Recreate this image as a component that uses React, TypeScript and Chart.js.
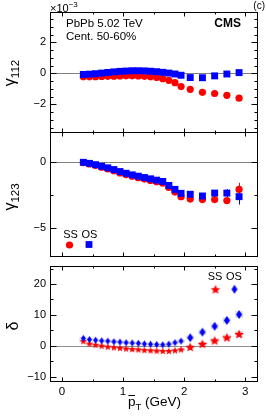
import React, { useEffect, useRef } from "react";
import { Chart, registerables } from "chart.js";

Chart.register(...registerables);

// ---------------- data ----------------
const pT = [0.35, 0.45, 0.55, 0.65, 0.75, 0.85, 0.95, 1.05, 1.15, 1.25, 1.35, 1.45, 1.55, 1.65, 1.75, 1.85, 1.95, 2.1, 2.3, 2.5, 2.7, 2.9];

// gamma_112 (x 10^-3)
const gamma112SS = [-0.22, -0.22, -0.21, -0.2, -0.19, -0.18, -0.17, -0.16, -0.16, -0.17, -0.19, -0.22, -0.27, -0.34, -0.45, -0.6, -0.85, -1.03, -1.22, -1.3, -1.42, -1.6];
const gamma112OS = [-0.07, -0.05, -0.02, 0.02, 0.06, 0.1, 0.13, 0.15, 0.17, 0.17, 0.16, 0.14, 0.11, 0.07, 0.02, -0.04, -0.12, -0.27, -0.28, -0.16, -0.04, 0.05];

// gamma_123
const gamma123SS = [-0.03, -0.12, -0.24, -0.37, -0.5, -0.64, -0.8, -0.93, -1.05, -1.16, -1.27, -1.37, -1.48, -1.58, -1.9, -2.25, -2.6, -2.78, -2.82, -2.82, -2.9, -2.05];
const gamma123OS = [0, -0.08, -0.18, -0.3, -0.42, -0.55, -0.7, -0.83, -0.95, -1.05, -1.15, -1.25, -1.35, -1.45, -1.75, -2.05, -2.35, -2.42, -2.55, -2.33, -2.33, -2.6];
const gamma123ErrSS = [0, 0, 0, 0, 0, 0, 0, 0, 0, 0, 0, 0, 0, 0, 0, 0, 0.05, 0.08, 0.1, 0.15, 0.2, 0.5];
const gamma123ErrOS = [0, 0, 0, 0, 0, 0, 0, 0, 0, 0, 0, 0, 0, 0, 0, 0, 0.05, 0.1, 0.12, 0.2, 0.3, 0.6];

// delta
const deltaSS = [1.5, 0.7, 0.3, 0.0, -0.3, -0.5, -0.7, -0.9, -1.1, -1.2, -1.4, -1.5, -1.6, -1.7, -1.7, -1.5, -1.2, -0.4, 0.6, 1.7, 2.7, 3.8];
const deltaOS = [2.4, 2.0, 1.8, 1.6, 1.5, 1.3, 1.2, 1.0, 0.9, 0.8, 0.6, 0.5, 0.4, 0.3, 0.5, 1.0, 1.5, 2.6, 4.4, 6.3, 8.2, 10.1];
const deltaSysSS = [0.4, 0.4, 0.4, 0.4, 0.4, 0.4, 0.4, 0.4, 0.4, 0.4, 0.4, 0.4, 0.4, 0.4, 0.4, 0.4, 0.5, 0.6, 0.7, 0.8, 0.9, 1.0];
const deltaSysOS = [0.4, 0.4, 0.4, 0.4, 0.4, 0.4, 0.4, 0.4, 0.4, 0.4, 0.4, 0.4, 0.4, 0.4, 0.4, 0.4, 0.5, 0.7, 0.8, 0.9, 1.0, 1.1];

// ticks
const xMajor = [0, 1, 2, 3];
const xMinor = [0.5, 1.5, 2.5];
const y112Major = [-2, 0, 2];
const y112Minor = [-3.5, -3, -2.5, -1.5, -1, -0.5, 0.5, 1, 1.5, 2.5, 3, 3.5];
const y123Major = [-5, 0];
const y123Minor = [-2.5];
const yDeltaMajor = [-10, 0, 10, 20];
const yDeltaMinor = [-5, 5, 15, 25];

// ---------------- layout constants ----------------
const W = 266;
const H = 418;
const LEFT = 51;
const RIGHT = 258;
const X_MIN = -0.18;
const X_MAX = 3.21;
const FF = "'Liberation Sans', Arial, Helvetica, sans-serif";
const RED = "#ff0000";
const BLUE = "#0000ff";

function makeStar(outer: number, color: string) {
  const s = Math.ceil(outer * 2) + 2;
  const c = document.createElement("canvas");
  c.width = s;
  c.height = s;
  const ctx = c.getContext("2d")!;
  ctx.fillStyle = color;
  ctx.beginPath();
  const cx = s / 2;
  const cy = s / 2 + outer * 0.1;
  const inner = outer * 0.45;
  for (let i = 0; i < 10; i++) {
    const r = i % 2 ? inner : outer;
    const a = -Math.PI / 2 + (i * Math.PI) / 5;
    ctx.lineTo(cx + r * Math.cos(a), cy + r * Math.sin(a));
  }
  ctx.closePath();
  ctx.fill();
  return c;
}

function makeDiamond(w: number, h: number, color: string) {
  const c = document.createElement("canvas");
  c.width = w + 2;
  c.height = h + 2;
  const ctx = c.getContext("2d")!;
  ctx.fillStyle = color;
  ctx.beginPath();
  ctx.moveTo(c.width / 2, 1);
  ctx.lineTo(c.width - 1, c.height / 2);
  ctx.lineTo(c.width / 2, c.height - 1);
  ctx.lineTo(1, c.height / 2);
  ctx.closePath();
  ctx.fill();
  return c;
}

type Part = { t: string; font: string; dy?: number; dx?: number; overline?: boolean };

function drawRich(ctx: CanvasRenderingContext2D, parts: Part[], x: number, y: number, align: string, rotate = false) {
  ctx.save();
  ctx.translate(x, y);
  if (rotate) ctx.rotate(-Math.PI / 2);
  ctx.textBaseline = "alphabetic";
  ctx.textAlign = "left";
  let total = 0;
  const widths = parts.map((p) => {
    ctx.font = p.font;
    const w = ctx.measureText(p.t).width;
    total += w + (p.dx || 0);
    return w;
  });
  let cx = align === "center" ? -total / 2 : align === "right" ? -total : 0;
  ctx.fillStyle = "#000";
  parts.forEach((p, i) => {
    ctx.font = p.font;
    cx += p.dx || 0;
    ctx.fillText(p.t, cx, p.dy || 0);
    if (p.overline) {
      ctx.strokeStyle = "#000";
      ctx.lineWidth = 1;
      ctx.beginPath();
      ctx.moveTo(cx + 0.5, (p.dy || 0) - 10.5);
      ctx.lineTo(cx + widths[i] - 0.5, (p.dy || 0) - 10.5);
      ctx.stroke();
    }
    cx += widths[i];
  });
  ctx.restore();
}

const rootPlugin = {
  id: "rootFrame",
  beforeDatasetsDraw(chart: any, _a: any, o: any) {
    const { ctx, chartArea: a, scales } = chart;
    const xs = scales.x;
    const ys = scales.y;
    ctx.save();
    (o.sys || []).forEach((s: any) => {
      ctx.fillStyle = s.color;
      pT.forEach((x, i) => {
        const px = xs.getPixelForValue(x);
        const y1 = ys.getPixelForValue(s.y[i] + s.e[i]);
        const y2 = ys.getPixelForValue(s.y[i] - s.e[i]);
        ctx.fillRect(px - s.hw, y1, 2 * s.hw, y2 - y1);
      });
    });
    const y0 = Math.round(ys.getPixelForValue(0)) + 0.5;
    ctx.strokeStyle = o.zeroColor || "#888";
    ctx.lineWidth = 1;
    ctx.beginPath();
    ctx.moveTo(a.left, y0);
    ctx.lineTo(a.right, y0);
    ctx.stroke();
    (o.errors || []).forEach((s: any) => {
      ctx.strokeStyle = s.color;
      pT.forEach((x, i) => {
        if (!s.e[i]) return;
        const px = Math.round(xs.getPixelForValue(x)) + 0.5;
        ctx.beginPath();
        ctx.moveTo(px, ys.getPixelForValue(s.y[i] + s.e[i]));
        ctx.lineTo(px, ys.getPixelForValue(s.y[i] - s.e[i]));
        ctx.stroke();
      });
    });
    ctx.restore();
  },
  afterDatasetsDraw(chart: any, _a: any, o: any) {
    const { ctx, chartArea: a, scales } = chart;
    const xs = scales.x;
    const ys = scales.y;
    ctx.save();
    ctx.strokeStyle = "#000";
    ctx.lineWidth = 1;
    const L = Math.round(a.left) - 0.5;
    const R = Math.round(a.right) - 0.5;
    const T = Math.round(a.top) - 0.5;
    const B = Math.round(a.bottom) - 0.5;
    ctx.strokeRect(L, T, R - L, B - T);
    ctx.beginPath();
    const xt = (vals: number[], len: number) => {
      vals.forEach((v) => {
        const px = Math.round(xs.getPixelForValue(v)) + 0.5;
        ctx.moveTo(px, B);
        ctx.lineTo(px, B - len);
        ctx.moveTo(px, T);
        ctx.lineTo(px, T + len);
      });
    };
    const yt = (vals: number[], len: number) => {
      vals.forEach((v) => {
        const py = Math.round(ys.getPixelForValue(v)) + 0.5;
        if (py < T || py > B) return;
        ctx.moveTo(L, py);
        ctx.lineTo(L + len, py);
        ctx.moveTo(R, py);
        ctx.lineTo(R - len, py);
      });
    };
    xt(xMajor, 4);
    xt(xMinor, 2);
    yt(o.yMajor, 6);
    yt(o.yMinor, 3);
    ctx.stroke();

    if (o.xLabels) {
      ctx.fillStyle = "#000";
      ctx.font = `11.5px ${FF}`;
      ctx.textAlign = "center";
      ctx.textBaseline = "alphabetic";
      for (const v of xMajor) {
        ctx.fillText(String(v), xs.getPixelForValue(v), a.bottom + 12.5);
      }
    }

    (o.texts || []).forEach((t: any) => drawRich(ctx, t.parts, t.x, t.y, t.align, t.rotate));

    (o.markers || []).forEach((m: any) => {
      ctx.fillStyle = m.color;
      if (m.kind === "circle") {
        ctx.beginPath();
        ctx.arc(m.x, m.y, m.r, 0, Math.PI * 2);
        ctx.fill();
      } else if (m.kind === "rect") {
        ctx.fillRect(m.x - m.r, m.y - m.r, 2 * m.r, 2 * m.r);
      } else if (m.img) {
        ctx.drawImage(m.img, m.x - m.img.width / 2, m.y - m.img.height / 2);
      }
    });
    ctx.restore();
  },
};

function panel(p: any) {
  const xh = p.showX ? 20 : 0;
  return {
    type: "scatter",
    data: {
      datasets: p.datasets,
    },
    options: {
      animation: false,
      responsive: false,
      maintainAspectRatio: false,
      events: [],
      layout: { padding: { left: 0, right: W - RIGHT, top: p.top, bottom: H - p.bottom - xh } },
      plugins: {
        legend: { display: false },
        tooltip: { enabled: false },
        rootFrame: { ...p.plugin, xLabels: p.showX },
      },
      scales: {
        x: {
          type: "linear",
          min: X_MIN,
          max: X_MAX,
          grid: { display: false, drawTicks: false },
          border: { display: false },
          ticks: { display: false },
          afterFit: (s: any) => {
            s.height = xh;
          },
        },
        y: {
          type: "linear",
          min: p.yMin,
          max: p.yMax,
          grid: { display: false, drawTicks: false },
          border: { display: false },
          ticks: {
            padding: 5,
            autoSkip: false,
            color: "#000",
            font: { family: FF, size: 11 },
            callback: (v: number) => (v < 0 ? "\u2212" + Math.abs(v) : String(v)),
          },
          afterBuildTicks: (s: any) => {
            s.ticks = p.plugin.yMajor.map((v: number) => ({ value: v }));
          },
          afterFit: (s: any) => {
            s.width = LEFT;
          },
        },
      },
    },
    plugins: [rootPlugin],
  };
}

const pts = (ys: number[]) => pT.map((x, i) => ({ x, y: ys[i] }));

export default function App() {
  const r1 = useRef<HTMLCanvasElement>(null);
  const r2 = useRef<HTMLCanvasElement>(null);
  const r3 = useRef<HTMLCanvasElement>(null);

  useEffect(() => {
    const smallStar = makeStar(3.8, RED);
    const bigStar = makeStar(5, RED);
    const smallDia = makeDiamond(5, 7, BLUE);
    const bigDia = makeDiamond(6, 9, BLUE);

    const fText = `11.5px ${FF}`;
    const title = `16px ${FF}`;
    const sub = `11.5px ${FF}`;

    const c1 = new Chart(
      r1.current!,
      panel({
        top: 13,
        bottom: 133,
        yMin: -3.85,
        yMax: 3.9,
        showX: false,
        datasets: [
          { data: pts(gamma112OS), pointStyle: "rect", pointRadius: 4.9, backgroundColor: BLUE, borderColor: BLUE, borderWidth: 0, order: 0 },
          { data: pts(gamma112SS), pointStyle: "circle", pointRadius: 3.6, backgroundColor: RED, borderColor: RED, borderWidth: 0, order: 1 },
        ],
        plugin: {
          yMajor: y112Major,
          yMinor: y112Minor,
          zeroColor: "#808080",
          texts: [
            { parts: [{ t: "\u00d710", font: `11px ${FF}` }, { t: "\u22123", font: `8px ${FF}`, dy: -5 }], x: 50, y: 12, align: "left" },
            { parts: [{ t: "(c)", font: `10px ${FF}` }], x: 265, y: 9, align: "right" },
            { parts: [{ t: "PbPb 5.02 TeV", font: fText }], x: 66, y: 27, align: "left" },
            { parts: [{ t: "Cent. 50-60%", font: fText }], x: 66, y: 40, align: "left" },
            { parts: [{ t: "CMS", font: `bold 12px ${FF}` }], x: 241, y: 27, align: "right" },
            { parts: [{ t: "\u03b3", font: title }, { t: "112", font: sub, dy: 4 }], x: 15, y: 73, align: "center", rotate: true },
          ],
        },
      }) as any
    );

    const c2 = new Chart(
      r2.current!,
      panel({
        top: 133,
        bottom: 257,
        yMin: -7.17,
        yMax: 2.22,
        showX: false,
        datasets: [
          { data: pts(gamma123OS), pointStyle: "rect", pointRadius: 4.9, backgroundColor: BLUE, borderColor: BLUE, borderWidth: 0, order: 0 },
          { data: pts(gamma123SS), pointStyle: "circle", pointRadius: 3.6, backgroundColor: RED, borderColor: RED, borderWidth: 0, order: 1 },
        ],
        plugin: {
          yMajor: y123Major,
          yMinor: y123Minor,
          zeroColor: "#808080",
          errors: [
            { y: gamma123SS, e: gamma123ErrSS, color: RED },
            { y: gamma123OS, e: gamma123ErrOS, color: BLUE },
          ],
          texts: [
            { parts: [{ t: "\u03b3", font: title }, { t: "123", font: sub, dy: 4 }], x: 15, y: 197, align: "center", rotate: true },
            { parts: [{ t: "SS", font: `11px ${FF}` }], x: 70.5, y: 237.5, align: "center" },
            { parts: [{ t: "OS", font: `11px ${FF}` }], x: 89.5, y: 237.5, align: "center" },
          ],
          markers: [
            { kind: "circle", x: 69.5, y: 245, r: 3.6, color: RED },
            { kind: "rect", x: 89, y: 244.5, r: 3.4, color: BLUE },
          ],
        },
      }) as any
    );

    const c3 = new Chart(
      r3.current!,
      panel({
        top: 267,
        bottom: 382,
        yMin: -11.75,
        yMax: 25.5,
        showX: true,
        datasets: [
          {
            data: pts(deltaOS),
            pointStyle: pT.map((x) => (x < 2 ? smallDia : bigDia)),
            pointRadius: 4,
            backgroundColor: BLUE,
            borderWidth: 0,
            order: 0,
          },
          {
            data: pts(deltaSS),
            pointStyle: pT.map((x) => (x < 2 ? smallStar : bigStar)),
            pointRadius: 4,
            backgroundColor: RED,
            borderWidth: 0,
            order: 1,
          },
        ],
        plugin: {
          yMajor: yDeltaMajor,
          yMinor: yDeltaMinor,
          zeroColor: "#909090",
          sys: [
            { y: deltaSS, e: deltaSysSS, hw: 4, color: "rgba(200,200,200,0.6)" },
            { y: deltaOS, e: deltaSysOS, hw: 4, color: "rgba(200,200,200,0.6)" },
          ],
          texts: [
            { parts: [{ t: "\u03b4", font: `16px ${FF}` }], x: 18, y: 326, align: "center", rotate: true },
            { parts: [{ t: "SS", font: `11px ${FF}` }], x: 215, y: 279.5, align: "center" },
            { parts: [{ t: "OS", font: `11px ${FF}` }], x: 234, y: 279.5, align: "center" },
            {
              parts: [
                { t: "p", font: `13.5px ${FF}`, overline: true },
                { t: "T", font: `9.5px ${FF}`, dy: 3.5 },
                { t: " (GeV)", font: `13.5px ${FF}` },
              ],
              x: 154.5,
              y: 406,
              align: "center",
            },
          ],
          markers: [
            { img: bigStar, x: 215.5, y: 289.3, color: RED },
            { img: bigDia, x: 234.5, y: 289.3, color: BLUE },
          ],
        },
      }) as any
    );

    return () => {
      c1.destroy();
      c2.destroy();
      c3.destroy();
    };
  }, []);

  const st: React.CSSProperties = { position: "absolute", left: 0, top: 0, width: W, height: H, display: "block" };
  return (
    <div style={{ position: "absolute", left: 0, top: 0, width: W, height: H, background: "#fff" }}>
      <canvas ref={r1} width={W} height={H} style={st} />
      <canvas ref={r2} width={W} height={H} style={st} />
      <canvas ref={r3} width={W} height={H} style={st} />
    </div>
  );
}
